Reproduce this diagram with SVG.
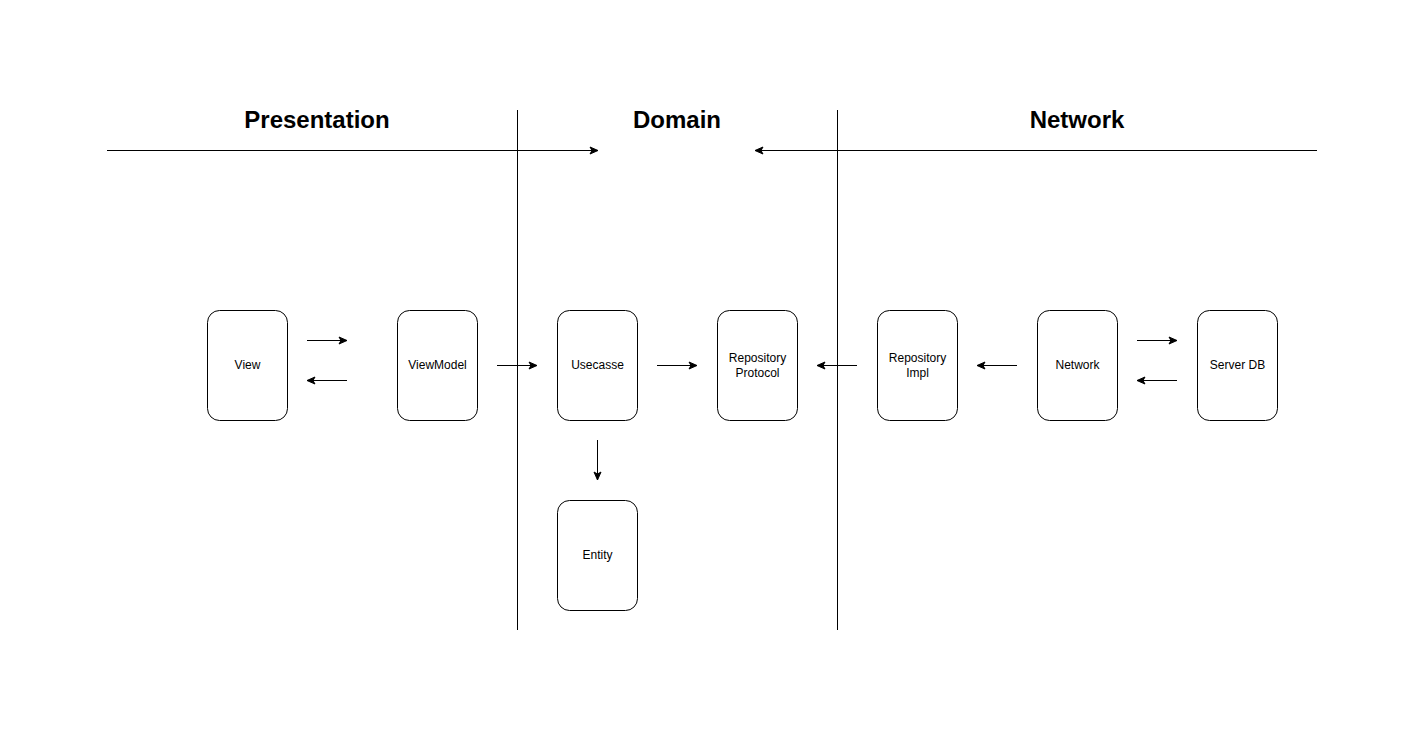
<svg xmlns="http://www.w3.org/2000/svg" width="1427" height="732" viewBox="0 0 1427 732">
<defs>
<marker id="arr" viewBox="0 0 10 10" refX="9" refY="5" markerWidth="10" markerHeight="10" markerUnits="userSpaceOnUse" orient="auto">
<path d="M1,1.5 L9,5 L1,8.5 L3,5 Z" fill="#000" stroke="#000" stroke-width="1"/>
</marker>
</defs>
<style>
.node rect{fill:#fff;stroke:#000;stroke-width:1}
.node text{font-family:"Liberation Sans",Arial,sans-serif;font-size:12px;fill:#000;text-anchor:middle}
.title{font-family:"Liberation Sans",Arial,sans-serif;font-size:24px;font-weight:bold;fill:#000;text-anchor:middle}
.conn line{stroke:#000;stroke-width:1;fill:none}
.conn .a{marker-end:url(#arr)}
</style>
<rect width="1427" height="732" fill="#fff"/>
<g id="titles">
<text class="title" x="317" y="128">Presentation</text>
<text class="title" x="677" y="128">Domain</text>
<text class="title" x="1077" y="128">Network</text>
</g>
<g class="conn" id="connectors">
<line x1="517.5" y1="110" x2="517.5" y2="630"/>
<line x1="837.5" y1="110" x2="837.5" y2="630"/>
<line class="a" x1="107" y1="150.5" x2="598" y2="150.5"/>
<line class="a" x1="1317" y1="150.5" x2="755" y2="150.5"/>
<line class="a" x1="307" y1="340.5" x2="347" y2="340.5"/>
<line class="a" x1="347" y1="380.5" x2="307" y2="380.5"/>
<line class="a" x1="497" y1="365.5" x2="537" y2="365.5"/>
<line class="a" x1="657" y1="365.5" x2="697" y2="365.5"/>
<line class="a" x1="857" y1="365.5" x2="817" y2="365.5"/>
<line class="a" x1="1017" y1="365.5" x2="977" y2="365.5"/>
<line class="a" x1="1137" y1="340.5" x2="1177" y2="340.5"/>
<line class="a" x1="1177" y1="380.5" x2="1137" y2="380.5"/>
<line class="a" x1="597.5" y1="440" x2="597.5" y2="480"/>
</g>
<g id="view" class="node"><rect x="207.5" y="310.5" width="80" height="110" rx="12"/><text x="247.5" y="369">View</text></g>
<g id="viewmodel" class="node"><rect x="397.5" y="310.5" width="80" height="110" rx="12"/><text x="437.5" y="369">ViewModel</text></g>
<g id="usecasse" class="node"><rect x="557.5" y="310.5" width="80" height="110" rx="12"/><text x="597.5" y="369">Usecasse</text></g>
<g id="repoprotocol" class="node"><rect x="717.5" y="310.5" width="80" height="110" rx="12"/><text x="757.5" y="362">Repository</text><text x="757.5" y="377">Protocol</text></g>
<g id="repoimpl" class="node"><rect x="877.5" y="310.5" width="80" height="110" rx="12"/><text x="917.5" y="362">Repository</text><text x="917.5" y="377">Impl</text></g>
<g id="network" class="node"><rect x="1037.5" y="310.5" width="80" height="110" rx="12"/><text x="1077.5" y="369">Network</text></g>
<g id="serverdb" class="node"><rect x="1197.5" y="310.5" width="80" height="110" rx="12"/><text x="1237.5" y="369">Server DB</text></g>
<g id="entity" class="node"><rect x="557.5" y="500.5" width="80" height="110" rx="12"/><text x="597.5" y="559">Entity</text></g>
</svg>
